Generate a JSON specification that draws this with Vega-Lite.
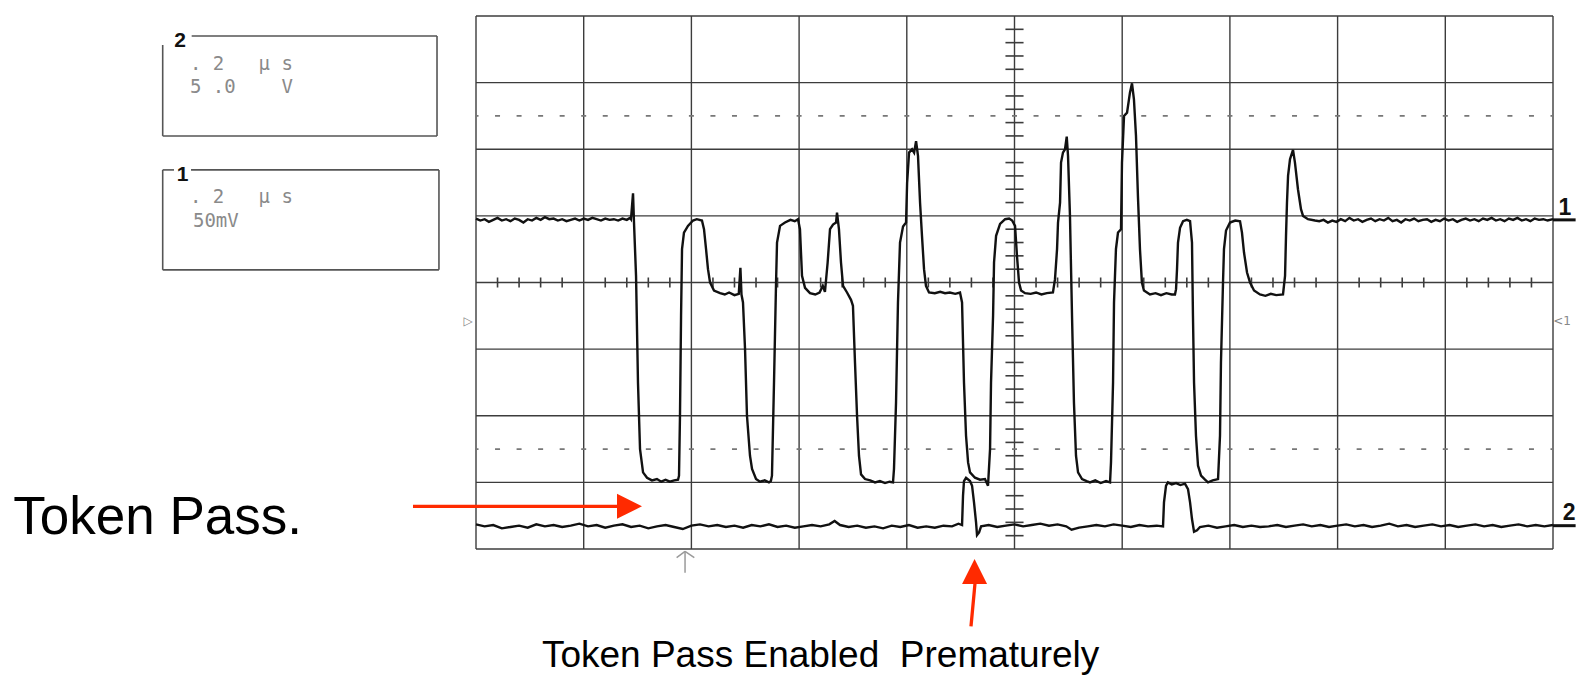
{
 "$schema": "https://vega.github.io/schema/vega-lite/v6.json",
 "width": 1077, "height": 533,
 "autosize": {"type": "none"},
 "padding": {"left": 476, "top": 16, "right": 26, "bottom": 129},
 "background": "white",
 "config": {"view": {"stroke": null}},
 "datasets": {
  "grid": [
   {"k":"grid","x":0,"y":-4,"x2":0,"y2":4},{"k":"grid","x":1,"y":-4,"x2":1,"y2":4},{"k":"grid","x":2,"y":-4,"x2":2,"y2":4},{"k":"grid","x":3,"y":-4,"x2":3,"y2":4},{"k":"grid","x":4,"y":-4,"x2":4,"y2":4},{"k":"grid","x":5,"y":-4,"x2":5,"y2":4},{"k":"grid","x":6,"y":-4,"x2":6,"y2":4},{"k":"grid","x":7,"y":-4,"x2":7,"y2":4},{"k":"grid","x":8,"y":-4,"x2":8,"y2":4},{"k":"grid","x":9,"y":-4,"x2":9,"y2":4},{"k":"grid","x":10,"y":-4,"x2":10,"y2":4},
   {"k":"grid","x":0,"y":-4,"x2":10,"y2":-4},{"k":"grid","x":0,"y":-3,"x2":10,"y2":-3},{"k":"grid","x":0,"y":-2,"x2":10,"y2":-2},{"k":"grid","x":0,"y":-1,"x2":10,"y2":-1},{"k":"grid","x":0,"y":0,"x2":10,"y2":0},{"k":"grid","x":0,"y":1,"x2":10,"y2":1},{"k":"grid","x":0,"y":2,"x2":10,"y2":2},{"k":"grid","x":0,"y":3,"x2":10,"y2":3},{"k":"grid","x":0,"y":4,"x2":10,"y2":4},
   {"k":"dot","x":0,"y":2.5,"x2":10,"y2":2.5},{"k":"dot","x":0,"y":-2.5,"x2":10,"y2":-2.5},
   {"k":"tick","x":0.2,"y":-0.075,"x2":0.2,"y2":0.075},{"k":"tick","x":0.4,"y":-0.075,"x2":0.4,"y2":0.075},{"k":"tick","x":0.6,"y":-0.075,"x2":0.6,"y2":0.075},{"k":"tick","x":0.8,"y":-0.075,"x2":0.8,"y2":0.075},{"k":"tick","x":1.2,"y":-0.075,"x2":1.2,"y2":0.075},{"k":"tick","x":1.4,"y":-0.075,"x2":1.4,"y2":0.075},{"k":"tick","x":1.6,"y":-0.075,"x2":1.6,"y2":0.075},{"k":"tick","x":1.8,"y":-0.075,"x2":1.8,"y2":0.075},{"k":"tick","x":2.2,"y":-0.075,"x2":2.2,"y2":0.075},{"k":"tick","x":2.4,"y":-0.075,"x2":2.4,"y2":0.075},{"k":"tick","x":2.6,"y":-0.075,"x2":2.6,"y2":0.075},{"k":"tick","x":2.8,"y":-0.075,"x2":2.8,"y2":0.075},{"k":"tick","x":3.2,"y":-0.075,"x2":3.2,"y2":0.075},{"k":"tick","x":3.4,"y":-0.075,"x2":3.4,"y2":0.075},{"k":"tick","x":3.6,"y":-0.075,"x2":3.6,"y2":0.075},{"k":"tick","x":3.8,"y":-0.075,"x2":3.8,"y2":0.075},{"k":"tick","x":4.2,"y":-0.075,"x2":4.2,"y2":0.075},{"k":"tick","x":4.4,"y":-0.075,"x2":4.4,"y2":0.075},{"k":"tick","x":4.6,"y":-0.075,"x2":4.6,"y2":0.075},{"k":"tick","x":4.8,"y":-0.075,"x2":4.8,"y2":0.075},{"k":"tick","x":5.2,"y":-0.075,"x2":5.2,"y2":0.075},{"k":"tick","x":5.4,"y":-0.075,"x2":5.4,"y2":0.075},{"k":"tick","x":5.6,"y":-0.075,"x2":5.6,"y2":0.075},{"k":"tick","x":5.8,"y":-0.075,"x2":5.8,"y2":0.075},{"k":"tick","x":6.2,"y":-0.075,"x2":6.2,"y2":0.075},{"k":"tick","x":6.4,"y":-0.075,"x2":6.4,"y2":0.075},{"k":"tick","x":6.6,"y":-0.075,"x2":6.6,"y2":0.075},{"k":"tick","x":6.8,"y":-0.075,"x2":6.8,"y2":0.075},{"k":"tick","x":7.2,"y":-0.075,"x2":7.2,"y2":0.075},{"k":"tick","x":7.4,"y":-0.075,"x2":7.4,"y2":0.075},{"k":"tick","x":7.6,"y":-0.075,"x2":7.6,"y2":0.075},{"k":"tick","x":7.8,"y":-0.075,"x2":7.8,"y2":0.075},{"k":"tick","x":8.2,"y":-0.075,"x2":8.2,"y2":0.075},{"k":"tick","x":8.4,"y":-0.075,"x2":8.4,"y2":0.075},{"k":"tick","x":8.6,"y":-0.075,"x2":8.6,"y2":0.075},{"k":"tick","x":8.8,"y":-0.075,"x2":8.8,"y2":0.075},{"k":"tick","x":9.2,"y":-0.075,"x2":9.2,"y2":0.075},{"k":"tick","x":9.4,"y":-0.075,"x2":9.4,"y2":0.075},{"k":"tick","x":9.6,"y":-0.075,"x2":9.6,"y2":0.075},{"k":"tick","x":9.8,"y":-0.075,"x2":9.8,"y2":0.075},
   {"k":"tick","x":4.916,"y":-3.8,"x2":5.084,"y2":-3.8},{"k":"tick","x":4.916,"y":-3.6,"x2":5.084,"y2":-3.6},{"k":"tick","x":4.916,"y":-3.4,"x2":5.084,"y2":-3.4},{"k":"tick","x":4.916,"y":-3.2,"x2":5.084,"y2":-3.2},{"k":"tick","x":4.916,"y":-2.8,"x2":5.084,"y2":-2.8},{"k":"tick","x":4.916,"y":-2.6,"x2":5.084,"y2":-2.6},{"k":"tick","x":4.916,"y":-2.4,"x2":5.084,"y2":-2.4},{"k":"tick","x":4.916,"y":-2.2,"x2":5.084,"y2":-2.2},{"k":"tick","x":4.916,"y":-1.8,"x2":5.084,"y2":-1.8},{"k":"tick","x":4.916,"y":-1.6,"x2":5.084,"y2":-1.6},{"k":"tick","x":4.916,"y":-1.4,"x2":5.084,"y2":-1.4},{"k":"tick","x":4.916,"y":-1.2,"x2":5.084,"y2":-1.2},{"k":"tick","x":4.916,"y":-0.8,"x2":5.084,"y2":-0.8},{"k":"tick","x":4.916,"y":-0.6,"x2":5.084,"y2":-0.6},{"k":"tick","x":4.916,"y":-0.4,"x2":5.084,"y2":-0.4},{"k":"tick","x":4.916,"y":-0.2,"x2":5.084,"y2":-0.2},{"k":"tick","x":4.916,"y":0.2,"x2":5.084,"y2":0.2},{"k":"tick","x":4.916,"y":0.4,"x2":5.084,"y2":0.4},{"k":"tick","x":4.916,"y":0.6,"x2":5.084,"y2":0.6},{"k":"tick","x":4.916,"y":0.8,"x2":5.084,"y2":0.8},{"k":"tick","x":4.916,"y":1.2,"x2":5.084,"y2":1.2},{"k":"tick","x":4.916,"y":1.4,"x2":5.084,"y2":1.4},{"k":"tick","x":4.916,"y":1.6,"x2":5.084,"y2":1.6},{"k":"tick","x":4.916,"y":1.8,"x2":5.084,"y2":1.8},{"k":"tick","x":4.916,"y":2.2,"x2":5.084,"y2":2.2},{"k":"tick","x":4.916,"y":2.4,"x2":5.084,"y2":2.4},{"k":"tick","x":4.916,"y":2.6,"x2":5.084,"y2":2.6},{"k":"tick","x":4.916,"y":2.8,"x2":5.084,"y2":2.8},{"k":"tick","x":4.916,"y":3.2,"x2":5.084,"y2":3.2},{"k":"tick","x":4.916,"y":3.4,"x2":5.084,"y2":3.4},{"k":"tick","x":4.916,"y":3.6,"x2":5.084,"y2":3.6},{"k":"tick","x":4.916,"y":3.8,"x2":5.084,"y2":3.8}
  ],
  "trace": [
   {"ch":1,"x":0,"y":0.96},{"ch":1,"x":0.04,"y":0.93},{"ch":1,"x":0.08,"y":0.95},{"ch":1,"x":0.12,"y":0.91},{"ch":1,"x":0.16,"y":0.94},{"ch":1,"x":0.2,"y":0.97},{"ch":1,"x":0.24,"y":0.93},{"ch":1,"x":0.28,"y":0.95},{"ch":1,"x":0.32,"y":0.92},{"ch":1,"x":0.36,"y":0.96},{"ch":1,"x":0.4,"y":0.94},{"ch":1,"x":0.44,"y":0.9},{"ch":1,"x":0.48,"y":0.95},{"ch":1,"x":0.52,"y":0.93},{"ch":1,"x":0.56,"y":0.97},{"ch":1,"x":0.6,"y":0.94},{"ch":1,"x":0.64,"y":0.98},{"ch":1,"x":0.68,"y":0.95},{"ch":1,"x":0.72,"y":0.96},{"ch":1,"x":0.76,"y":0.93},{"ch":1,"x":0.8,"y":0.95},{"ch":1,"x":0.84,"y":0.92},{"ch":1,"x":0.88,"y":0.94},{"ch":1,"x":0.92,"y":0.96},{"ch":1,"x":0.96,"y":0.93},{"ch":1,"x":1.0,"y":0.96},{"ch":1,"x":1.04,"y":0.94},{"ch":1,"x":1.08,"y":0.97},{"ch":1,"x":1.12,"y":0.95},{"ch":1,"x":1.16,"y":0.93},{"ch":1,"x":1.2,"y":0.96},{"ch":1,"x":1.24,"y":0.94},{"ch":1,"x":1.28,"y":0.95},{"ch":1,"x":1.32,"y":0.93},{"ch":1,"x":1.36,"y":0.96},{"ch":1,"x":1.4,"y":0.94},{"ch":1,"x":1.43,"y":0.97},
   {"ch":1,"x":1.439,"y":0.95},{"ch":1,"x":1.458,"y":1.34},{"ch":1,"x":1.467,"y":0.9},{"ch":1,"x":1.486,"y":0.1},{"ch":1,"x":1.504,"y":-1.5},{"ch":1,"x":1.523,"y":-2.5},{"ch":1,"x":1.551,"y":-2.85},{"ch":1,"x":1.588,"y":-2.93},{"ch":1,"x":1.634,"y":-2.97},{"ch":1,"x":1.68,"y":-2.95},{"ch":1,"x":1.72,"y":-2.99},{"ch":1,"x":1.76,"y":-2.96},{"ch":1,"x":1.8,"y":-2.99},{"ch":1,"x":1.84,"y":-2.97},{"ch":1,"x":1.876,"y":-2.96},{"ch":1,"x":1.885,"y":-2.9},{"ch":1,"x":1.894,"y":-2.0},{"ch":1,"x":1.904,"y":-0.5},{"ch":1,"x":1.913,"y":0.5},{"ch":1,"x":1.931,"y":0.75},{"ch":1,"x":1.968,"y":0.85},{"ch":1,"x":2.015,"y":0.93},{"ch":1,"x":2.05,"y":0.95},{"ch":1,"x":2.098,"y":0.93},{"ch":1,"x":2.117,"y":0.8},{"ch":1,"x":2.136,"y":0.5},{"ch":1,"x":2.154,"y":0.2},{"ch":1,"x":2.173,"y":0.0},{"ch":1,"x":2.21,"y":-0.12},{"ch":1,"x":2.266,"y":-0.16},{"ch":1,"x":2.31,"y":-0.18},{"ch":1,"x":2.35,"y":-0.15},{"ch":1,"x":2.4,"y":-0.19},{"ch":1,"x":2.44,"y":-0.17},{"ch":1,"x":2.455,"y":0.22},{"ch":1,"x":2.465,"y":-0.18},{"ch":1,"x":2.479,"y":-0.3},{"ch":1,"x":2.498,"y":-1.0},{"ch":1,"x":2.516,"y":-2.0},{"ch":1,"x":2.544,"y":-2.6},{"ch":1,"x":2.563,"y":-2.8},{"ch":1,"x":2.6,"y":-2.95},{"ch":1,"x":2.637,"y":-2.99},{"ch":1,"x":2.68,"y":-2.97},{"ch":1,"x":2.72,"y":-3.0},{"ch":1,"x":2.738,"y":-2.98},{"ch":1,"x":2.748,"y":-2.9},{"ch":1,"x":2.767,"y":-1.5},{"ch":1,"x":2.786,"y":0.0},{"ch":1,"x":2.795,"y":0.6},{"ch":1,"x":2.823,"y":0.85},{"ch":1,"x":2.869,"y":0.9},{"ch":1,"x":2.92,"y":0.94},{"ch":1,"x":2.96,"y":0.92},{"ch":1,"x":2.99,"y":0.95},{"ch":1,"x":3.008,"y":0.8},{"ch":1,"x":3.027,"y":0.1},{"ch":1,"x":3.055,"y":-0.08},{"ch":1,"x":3.101,"y":-0.16},{"ch":1,"x":3.15,"y":-0.18},{"ch":1,"x":3.19,"y":-0.15},{"ch":1,"x":3.22,"y":-0.05},{"ch":1,"x":3.24,"y":-0.14},{"ch":1,"x":3.265,"y":0.3},{"ch":1,"x":3.287,"y":0.8},{"ch":1,"x":3.315,"y":0.87},{"ch":1,"x":3.343,"y":0.9},{"ch":1,"x":3.352,"y":1.05},{"ch":1,"x":3.37,"y":0.8},{"ch":1,"x":3.389,"y":0.3},{"ch":1,"x":3.408,"y":-0.05},{"ch":1,"x":3.445,"y":-0.15},{"ch":1,"x":3.482,"y":-0.26},{"ch":1,"x":3.5,"y":-0.35},{"ch":1,"x":3.519,"y":-1.2},{"ch":1,"x":3.538,"y":-2.0},{"ch":1,"x":3.556,"y":-2.6},{"ch":1,"x":3.575,"y":-2.88},{"ch":1,"x":3.612,"y":-2.95},{"ch":1,"x":3.66,"y":-2.97},{"ch":1,"x":3.705,"y":-3.0},{"ch":1,"x":3.75,"y":-2.98},{"ch":1,"x":3.798,"y":-3.01},{"ch":1,"x":3.84,"y":-2.99},{"ch":1,"x":3.872,"y":-3.0},{"ch":1,"x":3.881,"y":-2.8},{"ch":1,"x":3.9,"y":-1.8},{"ch":1,"x":3.918,"y":-0.3},{"ch":1,"x":3.937,"y":0.6},{"ch":1,"x":3.965,"y":0.84},{"ch":1,"x":3.993,"y":0.9},{"ch":1,"x":4.003,"y":1.5},{"ch":1,"x":4.021,"y":1.95},{"ch":1,"x":4.049,"y":2.0},{"ch":1,"x":4.068,"y":1.95},{"ch":1,"x":4.086,"y":2.12},{"ch":1,"x":4.104,"y":1.9},{"ch":1,"x":4.123,"y":1.2},{"ch":1,"x":4.141,"y":0.7},{"ch":1,"x":4.16,"y":0.2},{"ch":1,"x":4.178,"y":-0.05},{"ch":1,"x":4.206,"y":-0.15},{"ch":1,"x":4.26,"y":-0.16},{"ch":1,"x":4.31,"y":-0.14},{"ch":1,"x":4.355,"y":-0.16},{"ch":1,"x":4.4,"y":-0.15},{"ch":1,"x":4.45,"y":-0.17},{"ch":1,"x":4.494,"y":-0.15},{"ch":1,"x":4.513,"y":-0.3},{"ch":1,"x":4.531,"y":-1.5},{"ch":1,"x":4.55,"y":-2.3},{"ch":1,"x":4.569,"y":-2.7},{"ch":1,"x":4.587,"y":-2.85},{"ch":1,"x":4.633,"y":-2.93},{"ch":1,"x":4.68,"y":-2.96},{"ch":1,"x":4.726,"y":-2.95},{"ch":1,"x":4.754,"y":-3.05},{"ch":1,"x":4.773,"y":-2.5},{"ch":1,"x":4.782,"y":-1.5},{"ch":1,"x":4.801,"y":-0.5},{"ch":1,"x":4.81,"y":0.3},{"ch":1,"x":4.829,"y":0.7},{"ch":1,"x":4.866,"y":0.88},{"ch":1,"x":4.913,"y":0.95},{"ch":1,"x":4.95,"y":0.96},{"ch":1,"x":4.978,"y":0.93},{"ch":1,"x":5.005,"y":0.85},{"ch":1,"x":5.023,"y":0.4},{"ch":1,"x":5.042,"y":0.0},{"ch":1,"x":5.061,"y":-0.12},{"ch":1,"x":5.098,"y":-0.16},{"ch":1,"x":5.15,"y":-0.17},{"ch":1,"x":5.2,"y":-0.15},{"ch":1,"x":5.25,"y":-0.18},{"ch":1,"x":5.3,"y":-0.16},{"ch":1,"x":5.357,"y":-0.15},{"ch":1,"x":5.376,"y":0.05},{"ch":1,"x":5.395,"y":0.5},{"ch":1,"x":5.404,"y":0.9},{"ch":1,"x":5.423,"y":1.2},{"ch":1,"x":5.432,"y":1.8},{"ch":1,"x":5.45,"y":1.95},{"ch":1,"x":5.469,"y":2.0},{"ch":1,"x":5.485,"y":2.19},{"ch":1,"x":5.497,"y":1.9},{"ch":1,"x":5.515,"y":1.0},{"ch":1,"x":5.534,"y":-0.5},{"ch":1,"x":5.552,"y":-1.8},{"ch":1,"x":5.571,"y":-2.6},{"ch":1,"x":5.59,"y":-2.85},{"ch":1,"x":5.627,"y":-2.95},{"ch":1,"x":5.67,"y":-2.98},{"ch":1,"x":5.701,"y":-3.0},{"ch":1,"x":5.75,"y":-2.97},{"ch":1,"x":5.8,"y":-3.01},{"ch":1,"x":5.85,"y":-2.98},{"ch":1,"x":5.887,"y":-3.0},{"ch":1,"x":5.896,"y":-2.7},{"ch":1,"x":5.915,"y":-1.5},{"ch":1,"x":5.924,"y":-0.3},{"ch":1,"x":5.942,"y":0.5},{"ch":1,"x":5.961,"y":0.75},{"ch":1,"x":5.989,"y":0.8},{"ch":1,"x":5.998,"y":1.8},{"ch":1,"x":6.017,"y":2.5},{"ch":1,"x":6.045,"y":2.55},{"ch":1,"x":6.072,"y":2.85},{"ch":1,"x":6.091,"y":2.99},{"ch":1,"x":6.109,"y":2.75},{"ch":1,"x":6.128,"y":2.2},{"ch":1,"x":6.146,"y":1.3},{"ch":1,"x":6.165,"y":0.5},{"ch":1,"x":6.183,"y":0.0},{"ch":1,"x":6.202,"y":-0.12},{"ch":1,"x":6.258,"y":-0.18},{"ch":1,"x":6.31,"y":-0.16},{"ch":1,"x":6.36,"y":-0.19},{"ch":1,"x":6.41,"y":-0.16},{"ch":1,"x":6.46,"y":-0.18},{"ch":1,"x":6.49,"y":-0.18},{"ch":1,"x":6.5,"y":-0.1},{"ch":1,"x":6.509,"y":0.2},{"ch":1,"x":6.518,"y":0.6},{"ch":1,"x":6.537,"y":0.82},{"ch":1,"x":6.565,"y":0.92},{"ch":1,"x":6.6,"y":0.94},{"ch":1,"x":6.63,"y":0.92},{"ch":1,"x":6.648,"y":0.6},{"ch":1,"x":6.657,"y":-0.5},{"ch":1,"x":6.667,"y":-1.5},{"ch":1,"x":6.685,"y":-2.3},{"ch":1,"x":6.704,"y":-2.75},{"ch":1,"x":6.732,"y":-2.9},{"ch":1,"x":6.769,"y":-2.96},{"ch":1,"x":6.797,"y":-3.0},{"ch":1,"x":6.84,"y":-2.97},{"ch":1,"x":6.89,"y":-2.95},{"ch":1,"x":6.908,"y":-2.3},{"ch":1,"x":6.917,"y":-1.2},{"ch":1,"x":6.936,"y":0.0},{"ch":1,"x":6.945,"y":0.5},{"ch":1,"x":6.964,"y":0.78},{"ch":1,"x":7.001,"y":0.9},{"ch":1,"x":7.05,"y":0.93},{"ch":1,"x":7.094,"y":0.92},{"ch":1,"x":7.112,"y":0.75},{"ch":1,"x":7.131,"y":0.45},{"ch":1,"x":7.159,"y":0.15},{"ch":1,"x":7.187,"y":0.0},{"ch":1,"x":7.224,"y":-0.12},{"ch":1,"x":7.279,"y":-0.18},{"ch":1,"x":7.33,"y":-0.2},{"ch":1,"x":7.38,"y":-0.17},{"ch":1,"x":7.43,"y":-0.19},{"ch":1,"x":7.493,"y":-0.18},{"ch":1,"x":7.512,"y":0.1},{"ch":1,"x":7.521,"y":0.7},{"ch":1,"x":7.53,"y":1.2},{"ch":1,"x":7.54,"y":1.6},{"ch":1,"x":7.558,"y":1.85},{"ch":1,"x":7.586,"y":1.99},{"ch":1,"x":7.604,"y":1.8},{"ch":1,"x":7.632,"y":1.4},{"ch":1,"x":7.66,"y":1.1},{"ch":1,"x":7.679,"y":1.0},{"ch":1,"x":7.725,"y":0.95},{"ch":1,"x":7.79,"y":0.93},
   {"ch":1,"x":7.83,"y":0.92},{"ch":1,"x":7.87,"y":0.94},{"ch":1,"x":7.91,"y":0.9},{"ch":1,"x":7.95,"y":0.93},{"ch":1,"x":7.99,"y":0.91},{"ch":1,"x":8.03,"y":0.95},{"ch":1,"x":8.07,"y":0.92},{"ch":1,"x":8.11,"y":0.97},{"ch":1,"x":8.15,"y":0.93},{"ch":1,"x":8.19,"y":0.95},{"ch":1,"x":8.23,"y":0.91},{"ch":1,"x":8.27,"y":0.94},{"ch":1,"x":8.31,"y":0.96},{"ch":1,"x":8.35,"y":0.92},{"ch":1,"x":8.39,"y":0.95},{"ch":1,"x":8.43,"y":0.93},{"ch":1,"x":8.47,"y":0.97},{"ch":1,"x":8.51,"y":0.92},{"ch":1,"x":8.55,"y":0.94},{"ch":1,"x":8.59,"y":0.9},{"ch":1,"x":8.63,"y":0.95},{"ch":1,"x":8.67,"y":0.93},{"ch":1,"x":8.71,"y":0.96},{"ch":1,"x":8.75,"y":0.92},{"ch":1,"x":8.79,"y":0.94},{"ch":1,"x":8.83,"y":0.95},{"ch":1,"x":8.87,"y":0.91},{"ch":1,"x":8.91,"y":0.94},{"ch":1,"x":8.95,"y":0.92},{"ch":1,"x":8.99,"y":0.96},{"ch":1,"x":9.03,"y":0.93},{"ch":1,"x":9.07,"y":0.95},{"ch":1,"x":9.11,"y":0.91},{"ch":1,"x":9.15,"y":0.94},{"ch":1,"x":9.19,"y":0.96},{"ch":1,"x":9.23,"y":0.93},{"ch":1,"x":9.27,"y":0.95},{"ch":1,"x":9.31,"y":0.92},{"ch":1,"x":9.35,"y":0.96},{"ch":1,"x":9.39,"y":0.94},{"ch":1,"x":9.43,"y":0.97},{"ch":1,"x":9.47,"y":0.93},{"ch":1,"x":9.51,"y":0.95},{"ch":1,"x":9.55,"y":0.92},{"ch":1,"x":9.59,"y":0.96},{"ch":1,"x":9.63,"y":0.94},{"ch":1,"x":9.67,"y":0.97},{"ch":1,"x":9.71,"y":0.93},{"ch":1,"x":9.75,"y":0.95},{"ch":1,"x":9.79,"y":0.92},{"ch":1,"x":9.83,"y":0.96},{"ch":1,"x":9.87,"y":0.94},{"ch":1,"x":9.91,"y":0.95},{"ch":1,"x":9.95,"y":0.93},{"ch":1,"x":10.0,"y":0.95},
   {"ch":2,"x":0,"y":-3.63},{"ch":2,"x":0.08,"y":-3.66},{"ch":2,"x":0.16,"y":-3.64},{"ch":2,"x":0.24,"y":-3.69},{"ch":2,"x":0.32,"y":-3.67},{"ch":2,"x":0.4,"y":-3.65},{"ch":2,"x":0.48,"y":-3.68},{"ch":2,"x":0.56,"y":-3.63},{"ch":2,"x":0.64,"y":-3.66},{"ch":2,"x":0.72,"y":-3.64},{"ch":2,"x":0.8,"y":-3.67},{"ch":2,"x":0.88,"y":-3.65},{"ch":2,"x":0.96,"y":-3.62},{"ch":2,"x":1.04,"y":-3.66},{"ch":2,"x":1.12,"y":-3.64},{"ch":2,"x":1.2,"y":-3.68},{"ch":2,"x":1.28,"y":-3.65},{"ch":2,"x":1.36,"y":-3.63},{"ch":2,"x":1.44,"y":-3.67},{"ch":2,"x":1.52,"y":-3.65},{"ch":2,"x":1.6,"y":-3.69},{"ch":2,"x":1.68,"y":-3.66},{"ch":2,"x":1.76,"y":-3.64},{"ch":2,"x":1.84,"y":-3.67},{"ch":2,"x":1.92,"y":-3.7},{"ch":2,"x":2.0,"y":-3.65},{"ch":2,"x":2.08,"y":-3.63},{"ch":2,"x":2.16,"y":-3.66},{"ch":2,"x":2.24,"y":-3.64},{"ch":2,"x":2.32,"y":-3.67},{"ch":2,"x":2.4,"y":-3.65},{"ch":2,"x":2.48,"y":-3.68},{"ch":2,"x":2.56,"y":-3.64},{"ch":2,"x":2.64,"y":-3.66},{"ch":2,"x":2.72,"y":-3.63},{"ch":2,"x":2.8,"y":-3.67},{"ch":2,"x":2.88,"y":-3.65},{"ch":2,"x":2.96,"y":-3.68},{"ch":2,"x":3.04,"y":-3.66},{"ch":2,"x":3.12,"y":-3.64},{"ch":2,"x":3.2,"y":-3.66},{"ch":2,"x":3.28,"y":-3.63},{"ch":2,"x":3.33,"y":-3.58},{"ch":2,"x":3.38,"y":-3.64},{"ch":2,"x":3.46,"y":-3.67},{"ch":2,"x":3.54,"y":-3.65},{"ch":2,"x":3.62,"y":-3.68},{"ch":2,"x":3.7,"y":-3.66},{"ch":2,"x":3.78,"y":-3.69},{"ch":2,"x":3.86,"y":-3.65},{"ch":2,"x":3.94,"y":-3.67},{"ch":2,"x":4.02,"y":-3.64},{"ch":2,"x":4.1,"y":-3.68},{"ch":2,"x":4.18,"y":-3.66},{"ch":2,"x":4.26,"y":-3.68},{"ch":2,"x":4.34,"y":-3.65},{"ch":2,"x":4.42,"y":-3.66},{"ch":2,"x":4.48,"y":-3.62},{"ch":2,"x":4.513,"y":-3.64},
   {"ch":2,"x":4.522,"y":-3.2},{"ch":2,"x":4.531,"y":-2.98},{"ch":2,"x":4.55,"y":-2.93},{"ch":2,"x":4.587,"y":-2.98},{"ch":2,"x":4.606,"y":-3.05},{"ch":2,"x":4.624,"y":-3.3},{"ch":2,"x":4.643,"y":-3.6},{"ch":2,"x":4.652,"y":-3.79},{"ch":2,"x":4.671,"y":-3.75},{"ch":2,"x":4.69,"y":-3.66},
   {"ch":2,"x":4.76,"y":-3.64},{"ch":2,"x":4.84,"y":-3.67},{"ch":2,"x":4.92,"y":-3.65},{"ch":2,"x":5.0,"y":-3.63},{"ch":2,"x":5.08,"y":-3.66},{"ch":2,"x":5.16,"y":-3.64},{"ch":2,"x":5.24,"y":-3.62},{"ch":2,"x":5.32,"y":-3.65},{"ch":2,"x":5.4,"y":-3.63},{"ch":2,"x":5.48,"y":-3.66},{"ch":2,"x":5.53,"y":-3.71},{"ch":2,"x":5.6,"y":-3.68},{"ch":2,"x":5.68,"y":-3.66},{"ch":2,"x":5.76,"y":-3.64},{"ch":2,"x":5.84,"y":-3.66},{"ch":2,"x":5.92,"y":-3.63},{"ch":2,"x":6.0,"y":-3.65},{"ch":2,"x":6.08,"y":-3.67},{"ch":2,"x":6.16,"y":-3.64},{"ch":2,"x":6.24,"y":-3.66},{"ch":2,"x":6.32,"y":-3.65},{"ch":2,"x":6.379,"y":-3.66},
   {"ch":2,"x":6.388,"y":-3.3},{"ch":2,"x":6.407,"y":-3.05},{"ch":2,"x":6.425,"y":-3.0},{"ch":2,"x":6.46,"y":-3.03},{"ch":2,"x":6.5,"y":-3.01},{"ch":2,"x":6.54,"y":-3.04},{"ch":2,"x":6.583,"y":-3.02},{"ch":2,"x":6.611,"y":-3.1},{"ch":2,"x":6.63,"y":-3.3},{"ch":2,"x":6.648,"y":-3.55},{"ch":2,"x":6.667,"y":-3.74},{"ch":2,"x":6.695,"y":-3.72},{"ch":2,"x":6.722,"y":-3.67},
   {"ch":2,"x":6.8,"y":-3.65},{"ch":2,"x":6.88,"y":-3.68},{"ch":2,"x":6.96,"y":-3.66},{"ch":2,"x":7.04,"y":-3.64},{"ch":2,"x":7.12,"y":-3.67},{"ch":2,"x":7.2,"y":-3.65},{"ch":2,"x":7.28,"y":-3.67},{"ch":2,"x":7.36,"y":-3.66},{"ch":2,"x":7.44,"y":-3.64},{"ch":2,"x":7.52,"y":-3.67},{"ch":2,"x":7.6,"y":-3.65},{"ch":2,"x":7.68,"y":-3.63},{"ch":2,"x":7.76,"y":-3.66},{"ch":2,"x":7.84,"y":-3.64},{"ch":2,"x":7.92,"y":-3.67},{"ch":2,"x":8.0,"y":-3.65},{"ch":2,"x":8.08,"y":-3.63},{"ch":2,"x":8.16,"y":-3.66},{"ch":2,"x":8.24,"y":-3.64},{"ch":2,"x":8.32,"y":-3.67},{"ch":2,"x":8.4,"y":-3.65},{"ch":2,"x":8.48,"y":-3.62},{"ch":2,"x":8.56,"y":-3.66},{"ch":2,"x":8.64,"y":-3.64},{"ch":2,"x":8.72,"y":-3.67},{"ch":2,"x":8.8,"y":-3.65},{"ch":2,"x":8.88,"y":-3.63},{"ch":2,"x":8.96,"y":-3.66},{"ch":2,"x":9.04,"y":-3.64},{"ch":2,"x":9.12,"y":-3.67},{"ch":2,"x":9.2,"y":-3.65},{"ch":2,"x":9.28,"y":-3.63},{"ch":2,"x":9.36,"y":-3.66},{"ch":2,"x":9.44,"y":-3.64},{"ch":2,"x":9.52,"y":-3.67},{"ch":2,"x":9.6,"y":-3.65},{"ch":2,"x":9.68,"y":-3.63},{"ch":2,"x":9.76,"y":-3.66},{"ch":2,"x":9.84,"y":-3.64},{"ch":2,"x":9.92,"y":-3.66},{"ch":2,"x":10.0,"y":-3.64}
  ],
  "segs": [
   {"k":"end","x":10,"y":0.94,"x2":10.21,"y2":0.94},
   {"k":"end","x":10,"y":-3.65,"x2":10.21,"y2":-3.65},
   {"k":"box","x":-2.64,"y":3.7,"x2":-0.362,"y2":3.7},
   {"k":"box","x":-2.909,"y":3.565,"x2":-2.909,"y2":2.2},
   {"k":"box","x":-2.909,"y":2.2,"x2":-0.362,"y2":2.2},
   {"k":"box","x":-0.362,"y":3.7,"x2":-0.362,"y2":2.2},
   {"k":"box","x":-2.909,"y":1.69,"x2":-2.804,"y2":1.69},
   {"k":"box","x":-2.646,"y":1.69,"x2":-0.344,"y2":1.69},
   {"k":"box","x":-2.909,"y":1.69,"x2":-2.909,"y2":0.19},
   {"k":"box","x":-2.909,"y":0.19,"x2":-0.344,"y2":0.19},
   {"k":"box","x":-0.344,"y":1.69,"x2":-0.344,"y2":0.19},
   {"k":"garrow","x":1.941,"y":-4.035,"x2":1.941,"y2":-4.355},
   {"k":"garrow","x":1.863,"y":-4.13,"x2":1.941,"y2":-4.035},
   {"k":"garrow","x":2.027,"y":-4.13,"x2":1.941,"y2":-4.035},
   {"k":"red","x":-0.585,"y":-3.36,"x2":1.32,"y2":-3.36},
   {"k":"red","x":4.633,"y":-4.519,"x2":4.596,"y2":-5.16}
  ],
  "heads": [
   {"k":"h","x":1.425,"y":-3.36},
   {"k":"v","x":4.629,"y":-4.339}
  ],
  "txt": [
   {"k":"big","x":-4.296,"y":-3.769,"label":"Token Pass."},
   {"k":"note","x":0.612,"y":-5.769,"label":"Token Pass Enabled\u00a0 Prematurely"},
   {"k":"lcd","x":-2.656,"y":3.19,"label":".\u00a02\u00a0\u00a0\u00a0\u03bc\u00a0s"},
   {"k":"lcd","x":-2.656,"y":2.845,"label":"5\u00a0.0\u00a0\u00a0\u00a0\u00a0V"},
   {"k":"lcd","x":-2.656,"y":1.196,"label":".\u00a02\u00a0\u00a0\u00a0\u03bc\u00a0s"},
   {"k":"lcd","x":-2.628,"y":0.836,"label":"50mV"},
   {"k":"chl","x":-2.748,"y":3.535,"label":"2"},
   {"k":"chl","x":-2.725,"y":1.526,"label":"1"},
   {"k":"endl","x":10.11,"y":1.01,"label":"1"},
   {"k":"endl","x":10.15,"y":-3.56,"label":"2"},
   {"k":"trig","x":-0.074,"y":-0.585,"label":"\u25b7"},
   {"k":"trig","x":10.084,"y":-0.585,"label":"<1"}
  ]
 },
 "encoding": {
  "x": {"field": "x", "type": "quantitative", "scale": {"domain": [0, 10], "nice": false, "zero": false}, "axis": null},
  "y": {"field": "y", "type": "quantitative", "scale": {"domain": [-4, 4], "nice": false, "zero": false}, "axis": null}
 },
 "layer": [
  {"data": {"name": "grid"}, "transform": [{"filter": "datum.k === 'grid'"}], "mark": {"type": "rule", "color": "#3c3c3c", "strokeWidth": 1.4},
   "encoding": {"x2": {"field": "x2"}, "y2": {"field": "y2"}}},
  {"data": {"name": "grid"}, "transform": [{"filter": "datum.k === 'dot'"}], "mark": {"type": "rule", "color": "#777777", "strokeWidth": 1.8, "strokeDash": [5, 16.54], "strokeDashOffset": 2.5},
   "encoding": {"x2": {"field": "x2"}, "y2": {"field": "y2"}}},
  {"data": {"name": "grid"}, "transform": [{"filter": "datum.k === 'tick'"}], "mark": {"type": "rule", "color": "#3c3c3c", "strokeWidth": 1.6},
   "encoding": {"x2": {"field": "x2"}, "y2": {"field": "y2"}}},
  {"data": {"name": "trace"}, "mark": {"type": "line", "color": "#111111", "strokeWidth": 2.4, "strokeJoin": "miter"},
   "encoding": {"detail": {"field": "ch", "type": "nominal"}, "order": {"field": "x", "type": "quantitative"}}},
  {"data": {"name": "segs"}, "transform": [{"filter": "datum.k === 'end'"}], "mark": {"type": "rule", "color": "#111111", "strokeWidth": 3},
   "encoding": {"x2": {"field": "x2"}, "y2": {"field": "y2"}}},
  {"data": {"name": "segs"}, "transform": [{"filter": "datum.k === 'box'"}], "mark": {"type": "rule", "color": "#555555", "strokeWidth": 1.6},
   "encoding": {"x2": {"field": "x2"}, "y2": {"field": "y2"}}},
  {"data": {"name": "segs"}, "transform": [{"filter": "datum.k === 'garrow'"}], "mark": {"type": "rule", "color": "#9a9a9a", "strokeWidth": 1.5},
   "encoding": {"x2": {"field": "x2"}, "y2": {"field": "y2"}}},
  {"data": {"name": "segs"}, "transform": [{"filter": "datum.k === 'red'"}], "mark": {"type": "rule", "color": "#ff2a00", "strokeWidth": 3.3},
   "encoding": {"x2": {"field": "x2"}, "y2": {"field": "y2"}}},
  {"data": {"name": "heads"}, "transform": [{"filter": "datum.k === 'h'"}], "mark": {"type": "point", "shape": "M1,0L-1,-1L-1,1Z", "size": 625, "filled": true, "color": "#ff2a00", "opacity": 1},
   "encoding": {}},
  {"data": {"name": "heads"}, "transform": [{"filter": "datum.k === 'v'"}], "mark": {"type": "point", "shape": "M0,-1L1,1L-1,1Z", "size": 625, "filled": true, "color": "#ff2a00", "opacity": 1},
   "encoding": {}},
  {"data": {"name": "txt"}, "transform": [{"filter": "datum.k === 'big'"}], "mark": {"type": "text", "font": "Liberation Sans", "fontSize": 53, "color": "#000000", "align": "left", "baseline": "alphabetic"},
   "encoding": {"text": {"field": "label"}}},
  {"data": {"name": "txt"}, "transform": [{"filter": "datum.k === 'note'"}], "mark": {"type": "text", "font": "Liberation Sans", "fontSize": 37, "color": "#000000", "align": "left", "baseline": "alphabetic"},
   "encoding": {"text": {"field": "label"}}},
  {"data": {"name": "txt"}, "transform": [{"filter": "datum.k === 'lcd'"}], "mark": {"type": "text", "font": "DejaVu Sans Mono", "fontSize": 19, "color": "#8a8a8a", "align": "left", "baseline": "alphabetic"},
   "encoding": {"text": {"field": "label"}}},
  {"data": {"name": "txt"}, "transform": [{"filter": "datum.k === 'chl'"}], "mark": {"type": "text", "font": "Liberation Sans", "fontSize": 21, "fontWeight": "bold", "color": "#111111", "align": "center", "baseline": "alphabetic"},
   "encoding": {"text": {"field": "label"}}},
  {"data": {"name": "txt"}, "transform": [{"filter": "datum.k === 'endl'"}], "mark": {"type": "text", "font": "Liberation Sans", "fontSize": 23, "fontWeight": "bold", "color": "#111111", "align": "center", "baseline": "alphabetic"},
   "encoding": {"text": {"field": "label"}}},
  {"data": {"name": "txt"}, "transform": [{"filter": "datum.k === 'trig'"}], "mark": {"type": "text", "font": "DejaVu Sans", "fontSize": 12, "color": "#888888", "align": "center", "baseline": "middle"},
   "encoding": {"text": {"field": "label"}}}
 ]
}
